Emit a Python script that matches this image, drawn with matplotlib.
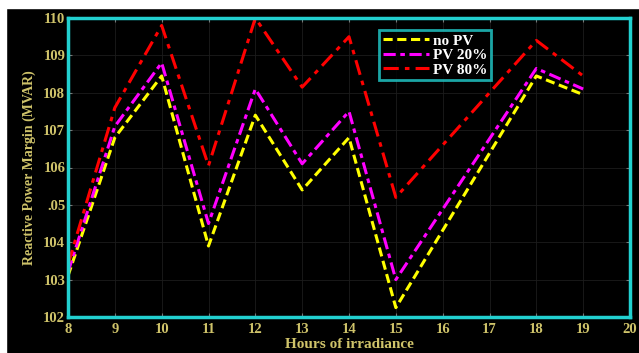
import matplotlib.pyplot as plt
from matplotlib.patches import Rectangle

hours = [8, 9, 10, 11, 12, 13, 14, 15, 18, 19]
no_pv = [103.1, 106.8, 108.45, 103.9, 107.4, 105.4, 106.8, 102.25, 108.45, 107.95]
pv_20 = [103.2, 107.1, 108.8, 104.5, 108.1, 106.1, 107.5, 103.0, 108.65, 108.1]
pv_80 = [103.4, 107.6, 109.8, 106.05, 110.0, 108.15, 109.5, 105.2, 109.4, 108.45]

xticks = list(range(8, 21))
yticks = [102, 103, 104, 105, 106, 107, 108, 109, 110]
ytick_labels = ['102', '103', '104', '.05', '106', '107', '108', '109', '110']

txt = '#cfc36a'
cyan = '#22d0d0'

fig = plt.figure(figsize=(6.39, 3.53), dpi=100, facecolor='black')
# white strip at top/left of the screenshot
fig.add_artist(Rectangle((0, 1 - 8 / 353), 1, 8 / 353, transform=fig.transFigure,
                         color='white', zorder=0))
fig.add_artist(Rectangle((0, 0), 6 / 639, 1, transform=fig.transFigure,
                         color='white', zorder=0))

ax = fig.add_axes([68 / 639, 1 - 317 / 353, 562 / 639, 299 / 353])
ax.set_facecolor('black')

ax.plot(hours, no_pv, color='#ffff00', ls=(0, (3, 1.5)), lw=2.2, label='no PV')
ax.plot(hours, pv_20, color='#ff00ff', ls=(0, (4, 1.5, 1.5, 1.5)), lw=2.2, label='PV 20%')
ax.plot(hours, pv_80, color='#ff0000', ls=(0, (5, 2, 1.5, 2)), lw=2.2, label='PV 80%')

ax.set_xlim(8, 20)
ax.set_ylim(102, 110)
ax.set_xticks(xticks)
ax.set_yticks(yticks)
ax.set_yticklabels(ytick_labels)

for s in ax.spines.values():
    s.set_color(cyan)
    s.set_linewidth(2.5)

ax.tick_params(direction='in', top=True, right=True, color='#777777', length=3,
               labelcolor=txt, labelsize=10.5)
ax.tick_params(axis='x', pad=4)
ax.tick_params(axis='y', pad=2)
for lab in ax.get_xticklabels() + ax.get_yticklabels():
    lab.set_family('Liberation Serif')
    lab.set_weight('bold')

ax.grid(True, color='#1c1c1c', lw=0.6)

ax.set_xlabel('Hours of irradiance', color=txt, family='Liberation Serif',
              weight='bold', fontsize=11, labelpad=2)
ax.set_ylabel('Reactive Power Margin (MVAR)', color=txt, family='Liberation Serif',
              weight='bold', fontsize=10, labelpad=5)

leg = ax.legend(loc='upper right', bbox_to_anchor=(0.767, 0.985), frameon=True,
                fancybox=False, handlelength=3.0, borderpad=0.25, labelspacing=0.05,
                handletextpad=0.3,
                prop={'family': 'Liberation Serif', 'weight': 'bold', 'size': 11})
leg.get_frame().set_facecolor('black')
leg.get_frame().set_edgecolor(cyan)
leg.get_frame().set_linewidth(2)
for t in leg.get_texts():
    t.set_color('white')

fig.savefig('out.png', dpi=100, facecolor='black')
